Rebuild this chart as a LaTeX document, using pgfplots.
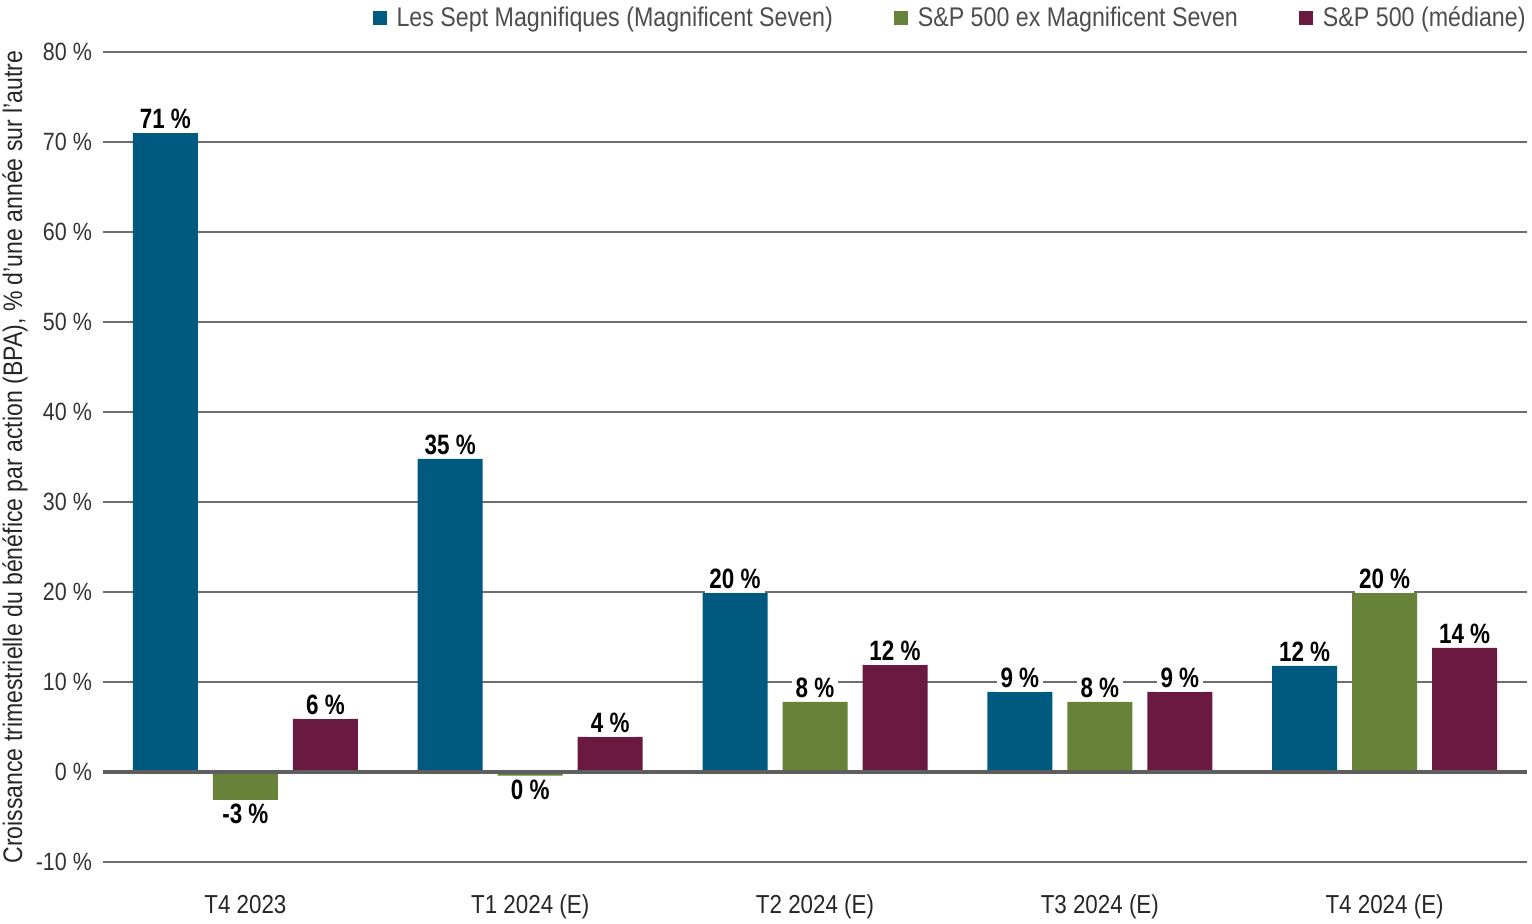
\documentclass[border=0pt]{standalone}
\usepackage{fontspec}
\setmainfont{Liberation Sans}[FakeStretch=0.86]
\newfontfamily\lblfont{Liberation Sans}[FakeStretch=0.8]
\usepackage{pgfplots}
\pgfplotsset{compat=1.18}
\definecolor{mblue}{HTML}{005A80}
\definecolor{mgreen}{HTML}{67833A}
\definecolor{mpurple}{HTML}{6A1A41}
\definecolor{gridgray}{HTML}{6E6E6E}
\definecolor{txtgray}{HTML}{4D4D4D}
\begin{document}
\begin{tikzpicture}
\useasboundingbox (0,0) rectangle (766pt,461.5pt);
\begin{axis}[
  at={(51.5pt,30.5pt)}, anchor=south west,
  scale only axis, width=712pt, height=405pt,
  ybar=7.5pt, bar width=32.5pt,
  xmin=-0.5, xmax=4.5, ymin=-10, ymax=80,
  xtick={0,1,2,3,4},
  xticklabels={T4 2023, T1 2024 (E), T2 2024 (E), T3 2024 (E), T4 2024 (E)},
  ytick={-10,0,10,20,30,40,50,60,70,80},
  yticklabels={-10 \%,0 \%,10 \%,20 \%,30 \%,40 \%,50 \%,60 \%,70 \%,80 \%},
  font=\fontsize{12.5pt}{15pt}\selectfont,
  yticklabel style={xshift=-2pt, text=black!80},
  xticklabel style={yshift=-13pt, font=\fontsize{13pt}{15pt}\selectfont, text=black!85},
  major tick length=0pt,
  axis line style={draw=none},
  ymajorgrids, grid style={gridgray, line width=0.8pt},
  point meta=explicit symbolic,
  visualization depends on={rawy \as \rawy},
  nodes near coords={\pgfplotspointmeta\ \%},
  every node near coord/.append style={font=\lblfont\fontsize{14pt}{16pt}\selectfont\bfseries, fill=white, inner sep=2pt, text=black,
    /utils/exec={\ifdim\rawy pt<0pt \def\myanc{north}\else\def\myanc{south}\fi},
    anchor=\myanc},
  legend columns=3,
  legend style={at={(1,1)}, anchor=south east, yshift=7pt, xshift=7.5pt, draw=none, fill=none,
    font=\fontsize{13.5pt}{16pt}\selectfont, text=txtgray,
    /tikz/every even column/.append style={column sep=25.5pt},
    nodes={inner xsep=5pt}},
]
\addplot[fill=mblue, draw=none, legend image code/.code={\fill[mblue] (-2.5pt,-3.5pt) rectangle (4.5pt,3.5pt);}]
  coordinates {(0,71) [71] (1,34.8) [35] (2,19.9) [20] (3,8.9) [9] (4,11.8) [12]};
\addlegendentry{Les Sept Magnifiques (Magnificent Seven)}
\addplot[fill=mgreen, draw=none, legend image code/.code={\fill[mgreen] (-2.5pt,-3.5pt) rectangle (4.5pt,3.5pt);}]
  coordinates {(0,-3.1) [-3] (1,-0.4) [0] (2,7.8) [8] (3,7.8) [8] (4,19.9) [20]};
\addlegendentry{S\&P 500 ex Magnificent Seven}
\addplot[fill=mpurple, draw=none, legend image code/.code={\fill[mpurple] (-2.5pt,-3.5pt) rectangle (4.5pt,3.5pt);}]
  coordinates {(0,5.9) [6] (1,3.9) [4] (2,11.9) [12] (3,8.9) [9] (4,13.8) [14]};
\addlegendentry{S\&P 500 (médiane)}
\draw[gridgray!85!black, line width=2pt] (axis cs:-0.5,0) -- (axis cs:4.5,0);
\end{axis}
\node[rotate=90, anchor=center, font=\fontsize{13.4pt}{16pt}\selectfont, text=black!85] at (7.5pt,233pt)
  {Croissance trimestrielle du bénéfice par action (BPA), \% d'une année sur l'autre};
\end{tikzpicture}
\end{document}
